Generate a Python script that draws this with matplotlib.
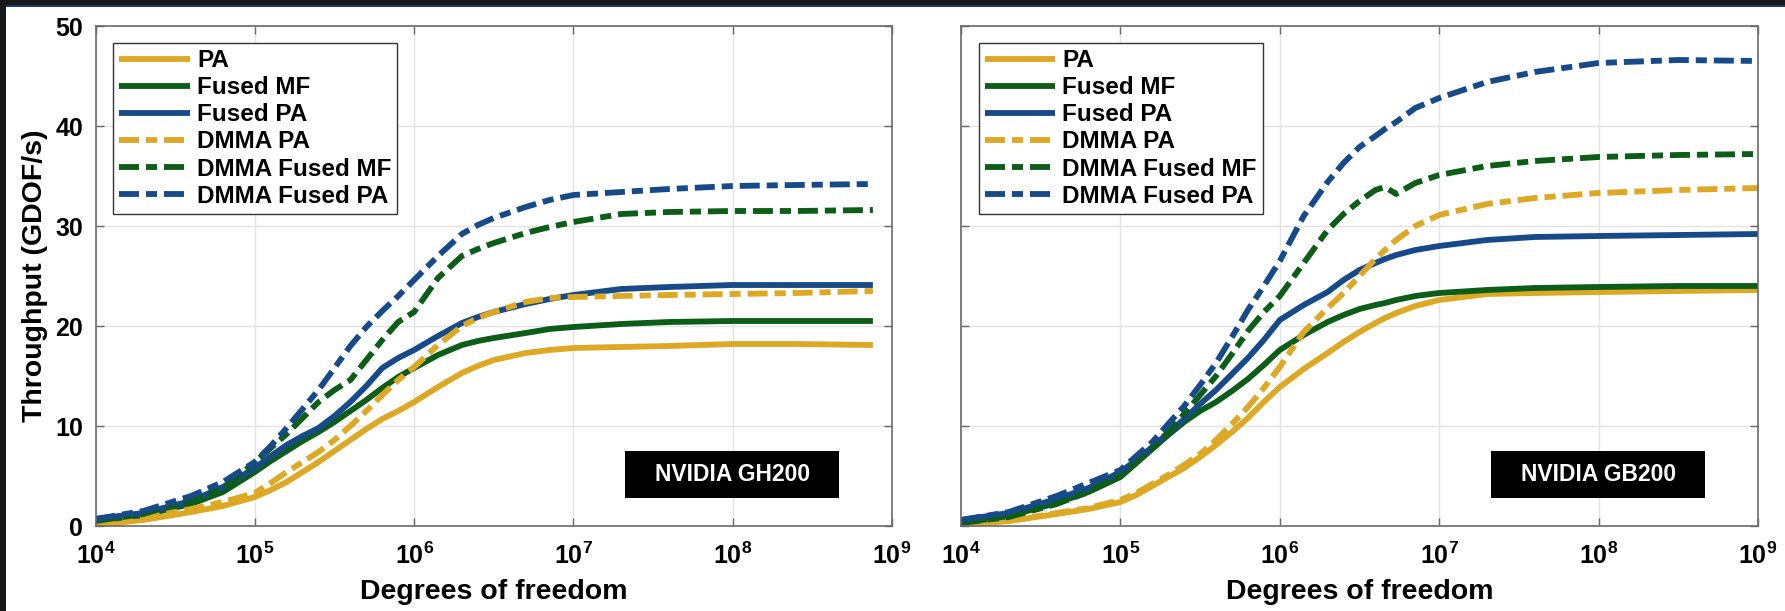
import numpy as np
import matplotlib
matplotlib.use('Agg')
import matplotlib.pyplot as plt
from matplotlib.patches import Rectangle

plt.rcParams['font.family'] = ['Liberation Sans', 'DejaVu Sans']
plt.rcParams['font.weight'] = 'bold'
plt.rcParams['mathtext.fontset'] = 'custom'
plt.rcParams['mathtext.rm'] = 'Liberation Sans:bold'
plt.rcParams['mathtext.it'] = 'Liberation Sans:bold:italic'
plt.rcParams['mathtext.bf'] = 'Liberation Sans:bold'
plt.rcParams['lines.scale_dashes'] = False

# ---- data (log10 of degrees of freedom, throughput in GDOF/s) ----
series_names = ['PA', 'Fused MF', 'Fused PA', 'DMMA PA', 'DMMA Fused MF', 'DMMA Fused PA']
panel_titles = ['NVIDIA GH200', 'NVIDIA GB200']

gh200_logdof = [4.0, 4.3, 4.6, 4.8, 5.0, 5.1, 5.2, 5.3, 5.4, 5.5, 5.6, 5.7, 5.8, 5.9, 6.0,
                6.15, 6.3, 6.4, 6.5, 6.7, 6.85, 7.0, 7.3, 7.6, 8.0, 8.4, 8.88]
gh200_pa = [0.1, 0.6, 1.4, 2.0, 2.9, 3.6, 4.4, 5.4, 6.4, 7.5, 8.6, 9.7, 10.7, 11.5, 12.4,
            13.9, 15.3, 16.0, 16.6, 17.3, 17.6, 17.8, 17.9, 18.0, 18.2, 18.2, 18.1]
gh200_fused_mf = [0.5, 1.1, 2.2, 3.4, 5.4, 6.5, 7.5, 8.5, 9.4, 10.4, 11.5, 12.6, 13.8, 14.9, 15.8,
                  17.1, 18.1, 18.5, 18.8, 19.3, 19.7, 19.9, 20.2, 20.4, 20.5, 20.5, 20.5]
gh200_fused_pa = [0.7, 1.3, 2.5, 3.9, 5.8, 7.0, 8.1, 9.0, 9.8, 11.0, 12.4, 14.0, 15.8, 16.8, 17.6,
                  19.0, 20.3, 20.9, 21.4, 22.2, 22.7, 23.1, 23.7, 23.9, 24.1, 24.1, 24.1]
gh200_dmma_pa = [0.2, 0.8, 1.7, 2.4, 3.3, 4.3, 5.4, 6.4, 7.4, 8.6, 10.0, 11.5, 13.1, 14.6, 15.9,
                 18.1, 20.0, 20.8, 21.4, 22.4, 22.8, 22.9, 23.0, 23.1, 23.2, 23.3, 23.5]
gh200_dmma_fused_mf = [0.5, 1.2, 2.6, 3.7, 6.4, 7.8, 9.2, 10.8, 12.4, 13.6, 14.6, 16.6, 18.6, 20.4, 21.4,
                       24.8, 27.0, 27.7, 28.3, 29.3, 29.9, 30.4, 31.2, 31.4, 31.5, 31.5, 31.6]
gh200_dmma_fused_pa = [0.7, 1.5, 3.0, 4.4, 6.4, 8.0, 9.8, 11.7, 13.6, 15.8, 18.0, 19.9, 21.5, 23.0, 24.6,
                       27.0, 29.2, 30.1, 30.8, 31.9, 32.6, 33.1, 33.4, 33.7, 34.0, 34.1, 34.2]

gb200_logdof = [4.0, 4.3, 4.6, 4.8, 5.0, 5.1, 5.2, 5.3, 5.4, 5.5, 5.6, 5.7, 5.8, 5.9, 6.0,
                6.15, 6.3, 6.4, 6.5, 6.6, 6.66, 6.73, 6.85, 7.0, 7.3, 7.6, 8.0, 8.5, 9.0]
gb200_pa = [0.1, 0.5, 1.2, 1.7, 2.4, 3.1, 4.0, 4.9, 5.8, 6.9, 8.1, 9.4, 10.8, 12.4, 13.9,
            15.7, 17.3, 18.4, 19.4, 20.3, 20.8, 21.3, 22.0, 22.6, 23.2, 23.3, 23.4, 23.5, 23.6]
gb200_fused_mf = [0.3, 1.0, 2.3, 3.4, 4.9, 6.3, 7.7, 9.1, 10.4, 11.5, 12.4, 13.5, 14.7, 16.1, 17.6,
                  19.1, 20.4, 21.1, 21.7, 22.1, 22.3, 22.6, 23.0, 23.3, 23.6, 23.8, 23.9, 24.0, 24.0]
gb200_fused_pa = [0.6, 1.3, 2.7, 3.8, 5.4, 6.6, 7.9, 9.3, 10.7, 12.2, 13.6, 15.2, 16.8, 18.6, 20.6,
                  22.1, 23.4, 24.6, 25.6, 26.3, 26.7, 27.1, 27.6, 28.0, 28.6, 28.9, 29.0, 29.1, 29.2]
gb200_dmma_pa = [0.1, 0.5, 1.3, 1.8, 2.6, 3.3, 4.2, 5.1, 6.1, 7.2, 8.6, 10.2, 11.9, 13.8, 15.9,
                 19.4, 21.8, 23.3, 25.0, 26.7, 27.6, 28.6, 30.0, 31.1, 32.2, 32.8, 33.3, 33.6, 33.8]
gb200_dmma_fused_mf = [0.3, 0.9, 2.2, 3.4, 5.1, 6.4, 7.8, 9.4, 11.2, 13.1, 15.0, 17.2, 19.5, 21.4, 23.0,
                       26.3, 29.6, 31.2, 32.5, 33.6, 33.9, 33.2, 34.3, 35.1, 36.0, 36.5, 36.9, 37.1, 37.2]
gb200_dmma_fused_pa = [0.6, 1.4, 3.0, 4.3, 5.6, 7.0, 8.4, 10.2, 12.0, 14.1, 16.3, 18.9, 21.6, 24.0, 26.5,
                       31.0, 34.4, 36.3, 37.9, 39.0, 39.7, 40.4, 41.8, 42.8, 44.4, 45.4, 46.3, 46.6, 46.5]

xtick_vals = [1e4, 1e5, 1e6, 1e7, 1e8, 1e9]
xtick_labels = [r'$10^{4}$', r'$10^{5}$', r'$10^{6}$', r'$10^{7}$', r'$10^{8}$', r'$10^{9}$']
ytick_vals = [0, 10, 20, 30, 40, 50]

# ---- styles ----
yellow = '#DDA824'
green = '#0B5D17'
blue = '#164A88'
colors = [yellow, green, blue, yellow, green, blue]
dashed = [False, False, False, True, True, True]
dash_pat = (14.4, 5.0, 8.0, 5.0)

fig = plt.figure(figsize=(17.85, 6.11), dpi=100)
fig.patch.set_facecolor('#16181c')
fig.patches.append(Rectangle((6 / 1785, 0), 1, (611 - 6) / 611, transform=fig.transFigure,
                             facecolor='white', edgecolor='none', zorder=-10))
fig.patches.append(Rectangle((6 / 1785, (611 - 6.5) / 611), 1, 1.5 / 611, transform=fig.transFigure,
                             facecolor='#1d3a66', edgecolor='none', zorder=-9))

ax1 = fig.add_axes([95.5 / 1785, 85 / 611, 796.5 / 1785, 500 / 611])
ax2 = fig.add_axes([961 / 1785, 85 / 611, 797 / 1785, 500 / 611])

panels = [
    (ax1, gh200_logdof, [gh200_pa, gh200_fused_mf, gh200_fused_pa, gh200_dmma_pa,
                         gh200_dmma_fused_mf, gh200_dmma_fused_pa], panel_titles[0]),
    (ax2, gb200_logdof, [gb200_pa, gb200_fused_mf, gb200_fused_pa, gb200_dmma_pa,
                         gb200_dmma_fused_mf, gb200_dmma_fused_pa], panel_titles[1]),
]

for ax, logdof, ys, title in panels:
    x = 10.0 ** np.array(logdof)
    for name, y, c, d in zip(series_names, ys, colors, dashed):
        line, = ax.plot(x, y, color=c, lw=4.2, label=name, solid_capstyle='butt')
        if d:
            line.set_dashes(dash_pat)
    ax.set_xscale('log')
    ax.set_xlim(1e4, 1e9)
    ax.set_ylim(0, 50)
    ax.set_xticks(xtick_vals)
    ax.set_xticklabels(xtick_labels)
    ax.xaxis.set_minor_locator(matplotlib.ticker.NullLocator())
    ax.set_yticks(ytick_vals)
    ax.grid(True, color='#e3e3e3', lw=1.0)
    ax.set_axisbelow(True)
    ax.tick_params(direction='in', length=6, width=1, color='#6a6a6a', top=True, right=True,
                   labelsize=18, pad=9)
    ax.tick_params(axis='x', pad=12)
    for s in ax.spines.values():
        s.set_color('#6a6a6a')
        s.set_linewidth(1.2)
    ax.set_xlabel('Degrees of freedom', fontsize=20.5, fontweight='bold', labelpad=7)
    leg = ax.legend(loc='upper left', bbox_to_anchor=(0.022, 0.966), borderaxespad=0,
                    fontsize=17.5, handlelength=2.9, handletextpad=0.3, labelspacing=0.17,
                    borderpad=0.25, fancybox=False, framealpha=1, edgecolor='#333333')
    leg.get_frame().set_linewidth(1.0)
    ax.add_patch(Rectangle((0.665, 0.056), 0.269, 0.094, transform=ax.transAxes,
                           facecolor='black', edgecolor='none', zorder=5))
    ax.text(0.7995, 0.103, title, transform=ax.transAxes, ha='center', va='center',
            color='white', fontsize=16.5, fontweight='bold', zorder=6)

ax1.set_ylabel('Throughput (GDOF/s)', fontsize=20.5, fontweight='bold', labelpad=5)
ax2.set_yticklabels([])

fig.savefig('out.png', dpi=100, facecolor=fig.get_facecolor())
